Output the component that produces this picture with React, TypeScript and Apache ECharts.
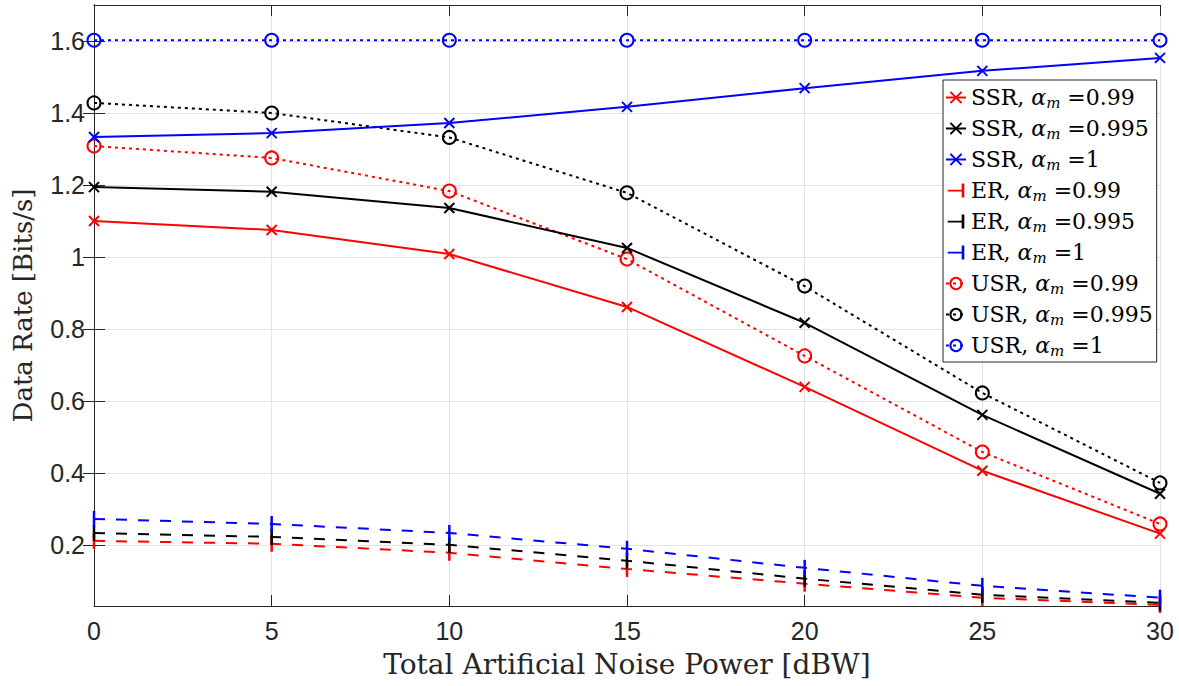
import React, { useEffect, useRef } from "react";
import * as echarts from "echarts";

const xValues = [0, 5, 10, 15, 20, 25, 30];
const xTicks = [0, 5, 10, 15, 20, 25, 30];
const yTicks = [0.2, 0.4, 0.6, 0.8, 1, 1.2, 1.4, 1.6];

const ssr099 = [1.1, 1.075, 1.008, 0.861, 0.639, 0.406, 0.231];
const ssr0995 = [1.194, 1.181, 1.136, 1.025, 0.817, 0.561, 0.342];
const ssr1 = [1.333, 1.344, 1.372, 1.417, 1.469, 1.517, 1.553];
const er099 = [0.211, 0.203, 0.178, 0.133, 0.092, 0.053, 0.033];
const er0995 = [0.233, 0.222, 0.2, 0.156, 0.106, 0.061, 0.039];
const er1 = [0.272, 0.258, 0.233, 0.189, 0.136, 0.086, 0.053];
const usr099 = [1.308, 1.275, 1.183, 0.994, 0.725, 0.458, 0.258];
const usr0995 = [1.428, 1.4, 1.332, 1.178, 0.919, 0.622, 0.372];
const usr1 = [1.602, 1.602, 1.602, 1.602, 1.602, 1.602, 1.602];

const legendPrefix = ["SSR", "SSR", "SSR", "ER", "ER", "ER", "USR", "USR", "USR"];
const legendAlpha = ["0.99", "0.995", "1", "0.99", "0.995", "1", "0.99", "0.995", "1"];

const RED = "#ff0000";
const BLACK = "#000000";
const BLUE = "#0000ff";

const CROSS = "path://M0,0 L10,10 M10,0 L0,10";
const ER_ICON = "path://M0,9 L16,9 L16,2 L19,2 L19,18 L16,18 L16,11 L0,11 Z";

export default function App() {
  const ref = useRef<HTMLDivElement>(null);
  useEffect(() => {
    if (!ref.current) return;
    const chart = echarts.init(ref.current, undefined, { renderer: "svg" });
    const pair = (arr: number[]) => xValues.map((x, i) => [x, arr[i]]);
    const names = legendPrefix.map((p, i) => `${p}, am =${legendAlpha[i]}`);
    const specs = [
      { d: ssr099, c: RED, kind: "ssr" },
      { d: ssr0995, c: BLACK, kind: "ssr" },
      { d: ssr1, c: BLUE, kind: "ssr" },
      { d: er099, c: RED, kind: "er" },
      { d: er0995, c: BLACK, kind: "er" },
      { d: er1, c: BLUE, kind: "er" },
      { d: usr099, c: RED, kind: "usr" },
      { d: usr0995, c: BLACK, kind: "usr" },
      { d: usr1, c: BLUE, kind: "usr" },
    ];
    const series = specs.map((s, i) => {
      const base: any = {
        name: names[i],
        type: "line",
        data: pair(s.d),
        xAxisIndex: 0,
        yAxisIndex: 0,
        clip: false,
        z: s.kind === "usr" ? 3 : 4,
      };
      if (s.kind === "ssr") {
        base.symbol = CROSS;
        base.symbolSize = 10;
        base.itemStyle = { color: s.c, borderColor: s.c, borderWidth: 2 };
        base.lineStyle = { color: s.c, width: 2, type: "solid" };
      } else if (s.kind === "er") {
        base.symbol = "rect";
        base.symbolSize = [2.5, 16];
        base.itemStyle = { color: s.c, borderWidth: 0 };
        base.lineStyle = { color: s.c, width: 2, type: [11, 11] };
      } else {
        base.symbol = "circle";
        base.symbolSize = 13;
        base.itemStyle = { color: "rgba(255,255,255,0)", borderColor: s.c, borderWidth: 2 };
        base.lineStyle = { color: s.c, width: 2, type: [3, 4] };
      }
      return base;
    });

    const legendData = names.map((n, i) =>
      specs[i].kind === "er"
        ? { name: n, icon: ER_ICON, itemStyle: { color: specs[i].c, borderWidth: 0 } }
        : { name: n }
    );

    const serif = "'DejaVu Serif', 'Liberation Serif', serif";
    const sans = "'Liberation Sans', Arial, sans-serif";

    chart.setOption({
      animation: false,
      backgroundColor: "#ffffff",
      grid: { left: 94, right: 19, top: 5, bottom: 80, containLabel: false, outerBoundsMode: "none" },
      legend: {
        orient: "vertical",
        left: 943,
        top: 80,
        backgroundColor: "#ffffff",
        borderColor: "#262626",
        borderWidth: 1,
        borderRadius: 0,
        padding: [5, 4, 4, 2],
        itemGap: 6,
        itemWidth: 20,
        itemHeight: 14,
        data: legendData,
        formatter: (name: string) => {
          const i = names.indexOf(name);
          return `{n|${legendPrefix[i]}, }{a|α}{s|m}{n| =${legendAlpha[i]}}`;
        },
        textStyle: {
          color: "#000000",
          rich: {
            n: { fontFamily: serif, fontSize: 22, color: "#000", lineHeight: 24 },
            a: { fontFamily: serif, fontSize: 22, fontStyle: "italic", color: "#000", lineHeight: 24 },
            s: { fontFamily: serif, fontSize: 15, fontStyle: "italic", color: "#000", lineHeight: 24, padding: [10, 0, 0, 0] },
          },
        },
      },
      xAxis: [
        {
          type: "value",
          min: 0,
          max: 30,
          interval: 5,
          position: "bottom",
          name: "Total Artificial Noise Power [dBW]",
          nameLocation: "middle",
          nameGap: 44,
          nameTextStyle: { fontFamily: serif, fontSize: 28, color: "#262626" },
          axisLine: { show: true, lineStyle: { color: "#262626", width: 1 } },
          axisTick: { show: true, inside: true, length: 11, lineStyle: { color: "#262626" } },
          axisLabel: {
            fontFamily: sans,
            fontSize: 25,
            color: "#262626",
            margin: 12,
            customValues: xTicks,
          },
          splitLine: { show: true, lineStyle: { color: "#e3e3e3", width: 1 } },
        },
        {
          type: "value",
          min: 0,
          max: 30,
          interval: 5,
          position: "top",
          axisLine: { show: true, lineStyle: { color: "#262626", width: 1 } },
          axisTick: { show: true, inside: true, length: 11, lineStyle: { color: "#262626" } },
          axisLabel: { show: false },
          splitLine: { show: false },
        },
      ],
      yAxis: [
        {
          type: "value",
          min: 0.03,
          max: 1.7,
          position: "left",
          name: "Data Rate [Bits/s]",
          nameLocation: "middle",
          nameGap: 58,
          nameTextStyle: { fontFamily: serif, fontSize: 26, color: "#262626" },
          axisLine: { show: true, lineStyle: { color: "#262626", width: 1 } },
          axisTick: { show: true, inside: true, length: 11, customValues: yTicks, lineStyle: { color: "#262626" } },
          axisLabel: {
            fontFamily: sans,
            fontSize: 25,
            color: "#262626",
            margin: 9,
            customValues: yTicks,
            formatter: (v: number) => String(Math.round(v * 10) / 10),
          },
          splitLine: { show: true, lineStyle: { color: "#e3e3e3", width: 1 } },
        },
        {
          type: "value",
          min: 0.03,
          max: 1.7,
          position: "right",
          axisLine: { show: true, lineStyle: { color: "#262626", width: 1 } },
          axisTick: { show: true, inside: true, length: 11, customValues: yTicks, lineStyle: { color: "#262626" } },
          axisLabel: { show: false },
          splitLine: { show: false },
        },
      ],
      series,
    });
    return () => chart.dispose();
  }, []);
  return <div ref={ref} style={{ width: 1179, height: 686, position: "absolute", left: 0, top: 0 }} />;
}
